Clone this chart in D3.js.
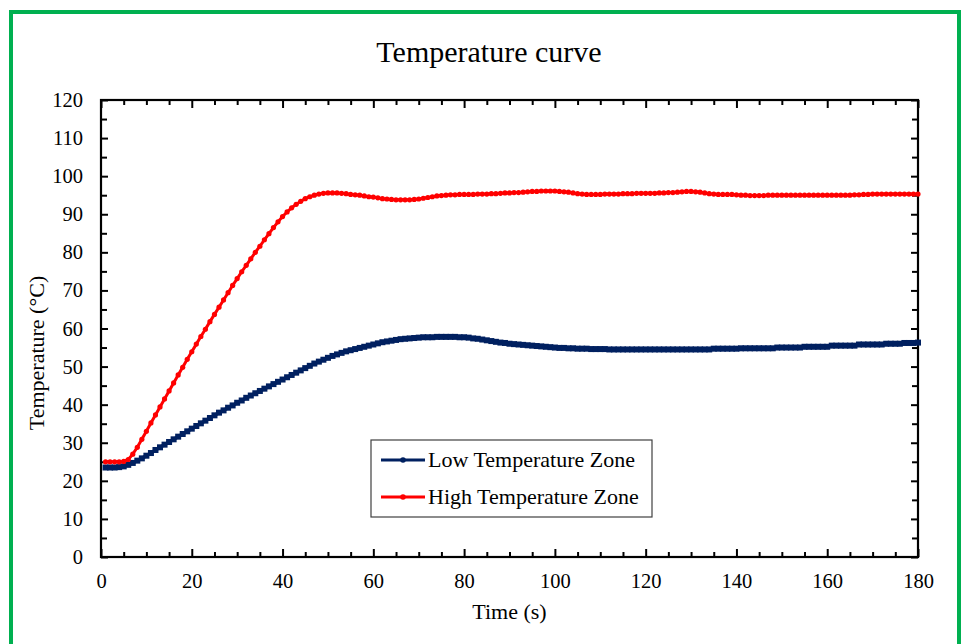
<!DOCTYPE html>
<html>
<head>
<meta charset="utf-8">
<script src="https://cdn.jsdelivr.net/npm/d3@7"></script>
<style>
body { margin: 0; background: #fff; }
text { font-family: "Liberation Serif", "Times New Roman", serif; fill: #000; }
</style>
</head>
<body>
<div id="chart"></div>
<script>
var times = d3.range(1, 181);

var lowZone = [
	23.5, 23.5, 23.5, 23.6, 23.8, 24.2, 24.7, 25.3, 25.9, 26.6,
	27.3, 28.1, 28.8, 29.5, 30.2, 30.9, 31.6, 32.3, 33.0, 33.7,
	34.4, 35.1, 35.8, 36.5, 37.2, 37.9, 38.5, 39.2, 39.8, 40.5,
	41.1, 41.8, 42.4, 43.0, 43.6, 44.2, 44.8, 45.4, 46.0, 46.6,
	47.2, 47.8, 48.4, 49.0, 49.6, 50.2, 50.8, 51.3, 51.8, 52.3,
	52.8, 53.2, 53.6, 54.0, 54.3, 54.6, 54.9, 55.2, 55.5, 55.8,
	56.1, 56.4, 56.6, 56.8, 57.0, 57.2, 57.3, 57.4, 57.5, 57.6,
	57.7, 57.7, 57.7, 57.8, 57.8, 57.8, 57.8, 57.8, 57.7, 57.7,
	57.6, 57.4, 57.3, 57.1, 56.9, 56.7, 56.5, 56.3, 56.2, 56.0,
	55.9, 55.8, 55.7, 55.6, 55.5, 55.4, 55.3, 55.2, 55.1, 55.0,
	54.9, 54.9, 54.8, 54.8, 54.7, 54.7, 54.7, 54.6, 54.6, 54.6,
	54.6, 54.5, 54.5, 54.5, 54.5, 54.5, 54.5, 54.5, 54.5, 54.5,
	54.5, 54.5, 54.5, 54.5, 54.5, 54.5, 54.5, 54.5, 54.5, 54.5,
	54.5, 54.5, 54.5, 54.5, 54.7, 54.7, 54.7, 54.7, 54.7, 54.7,
	54.8, 54.8, 54.8, 54.8, 54.8, 54.8, 54.8, 54.8, 55.0, 55.0,
	55.0, 55.0, 55.0, 55.0, 55.2, 55.2, 55.2, 55.2, 55.2, 55.2,
	55.5, 55.5, 55.5, 55.5, 55.5, 55.5, 55.8, 55.8, 55.8, 55.8,
	55.8, 55.8, 56.0, 56.0, 56.0, 56.0, 56.2, 56.2, 56.2, 56.3
];

var highZone = [
	25.0, 25.0, 25.0, 25.0, 25.1, 25.6, 27.0, 28.8, 30.9, 33.0,
	35.2, 37.3, 39.4, 41.5, 43.6, 45.7, 47.8, 49.8, 51.9, 53.9,
	55.9, 57.9, 59.8, 61.8, 63.7, 65.6, 67.5, 69.4, 71.3, 73.1,
	74.9, 76.6, 78.3, 80.0, 81.6, 83.3, 84.9, 86.5, 88.0, 89.4,
	90.6, 91.7, 92.6, 93.4, 94.1, 94.6, 95.0, 95.3, 95.5, 95.6,
	95.6, 95.6, 95.5, 95.4, 95.2, 95.1, 95.0, 94.8, 94.6, 94.5,
	94.3, 94.1, 94.0, 93.9, 93.8, 93.8, 93.8, 93.8, 93.9, 94.0,
	94.2, 94.4, 94.6, 94.8, 94.9, 95.0, 95.1, 95.1, 95.2, 95.2,
	95.2, 95.2, 95.3, 95.3, 95.3, 95.4, 95.4, 95.5, 95.6, 95.6,
	95.7, 95.7, 95.8, 95.9, 96.0, 96.0, 96.1, 96.1, 96.1, 96.1,
	96.0, 95.9, 95.8, 95.6, 95.4, 95.3, 95.2, 95.2, 95.2, 95.2,
	95.3, 95.3, 95.3, 95.3, 95.4, 95.4, 95.4, 95.5, 95.5, 95.5,
	95.5, 95.5, 95.6, 95.6, 95.7, 95.7, 95.8, 95.9, 96.0, 96.0,
	95.9, 95.8, 95.6, 95.4, 95.3, 95.2, 95.2, 95.2, 95.2, 95.1,
	95.0, 95.0, 94.9, 94.9, 94.9, 94.9, 95.0, 95.0, 95.0, 95.0,
	95.0, 95.0, 95.0, 95.0, 95.0, 95.0, 95.0, 95.0, 95.0, 95.0,
	95.0, 95.0, 95.0, 95.0, 95.0, 95.1, 95.1, 95.2, 95.2, 95.3,
	95.3, 95.3, 95.3, 95.3, 95.3, 95.3, 95.3, 95.3, 95.3, 95.3
];

var xTicks = [0, 20, 40, 60, 80, 100, 120, 140, 160, 180];
var yTicks = [0, 10, 20, 30, 40, 50, 60, 70, 80, 90, 100, 110, 120];
var seriesNames = ['Low Temperature Zone', 'High Temperature Zone'];

var width = 962,
	height = 644;
var padding = {left: 101, right: 44, top: 100, bottom: 87};
var innerW = width - padding.left - padding.right,
	innerH = height - padding.top - padding.bottom;

var colors = ['#002060', '#ff0000'];

var svg = d3.select('#chart')
		.append('svg')
		.attr('width', width)
		.attr('height', height)

svg.append('rect')
	.attr('x', 11)
	.attr('y', 12)
	.attr('width', 948)
	.attr('height', 700)
	.attr('fill', 'none')
	.attr('stroke', '#00b050')
	.attr('stroke-width', 4)

svg.append('text')
	.attr('x', 489)
	.attr('y', 62)
	.attr('text-anchor', 'middle')
	.style('font-size', '30px')
	.text('Temperature curve')

var x = d3.scaleLinear().domain([0, 180]).range([0, innerW]);
var y = d3.scaleLinear().domain([0, 120]).range([innerH, 0]);

var g = svg.append('g').attr('transform', `translate(${padding.left}, ${padding.top})`);

var minorX = d3.range(0, 181, 5).filter(d => d % 20 !== 0);
var minorY = d3.range(0, 121, 5).filter(d => d % 10 !== 0);

function styleAxis(sel) {
	sel.select('.domain').remove();
	sel.selectAll('line').attr('stroke', '#000').attr('stroke-width', 2);
	sel.selectAll('text').style('font-size', '20.5px').style('font-family', '"Liberation Serif", serif');
}

g.append('g').attr('transform', `translate(0, ${innerH})`)
	.call(d3.axisBottom(x).tickValues(xTicks).tickSize(-8).tickPadding(16).tickFormat(d3.format('d')))
	.call(styleAxis)
g.append('g').attr('transform', `translate(0, ${innerH})`)
	.call(d3.axisBottom(x).tickValues(minorX).tickSize(-5).tickFormat(''))
	.call(styleAxis)
g.append('g')
	.call(d3.axisTop(x).tickValues(xTicks).tickSize(-8).tickFormat(''))
	.call(styleAxis)
g.append('g')
	.call(d3.axisTop(x).tickValues(minorX).tickSize(-5).tickFormat(''))
	.call(styleAxis)

g.append('g')
	.call(d3.axisLeft(y).tickValues(yTicks).tickSize(-7).tickPadding(18).tickFormat(d3.format('d')))
	.call(styleAxis)
g.append('g')
	.call(d3.axisLeft(y).tickValues(minorY).tickSize(-6).tickFormat(''))
	.call(styleAxis)
g.append('g').attr('transform', `translate(${innerW}, 0)`)
	.call(d3.axisRight(y).tickValues(yTicks).tickSize(-7).tickFormat(''))
	.call(styleAxis)
g.append('g').attr('transform', `translate(${innerW}, 0)`)
	.call(d3.axisRight(y).tickValues(minorY).tickSize(-6).tickFormat(''))
	.call(styleAxis)

g.append('rect')
	.attr('width', innerW)
	.attr('height', innerH)
	.attr('fill', 'none')
	.attr('stroke', '#000')
	.attr('stroke-width', 2.2)

var line = d3.line()
		.x((d, i) => x(times[i]))
		.y(d => y(d))

// low zone: navy line with small square markers
g.append('path')
	.datum(lowZone)
	.attr('d', line)
	.attr('fill', 'none')
	.attr('stroke', colors[0])
	.attr('stroke-width', 3.5)

g.selectAll('.low')
	.data(lowZone)
	.enter()
	.append('rect')
	.attr('class', 'low')
	.attr('x', (d, i) => x(times[i]) - 3)
	.attr('y', d => y(d) - 3)
	.attr('width', 6)
	.attr('height', 6)
	.attr('fill', colors[0])

// high zone: red line with small round markers
g.append('path')
	.datum(highZone)
	.attr('d', line)
	.attr('fill', 'none')
	.attr('stroke', colors[1])
	.attr('stroke-width', 3)

g.selectAll('.high')
	.data(highZone)
	.enter()
	.append('circle')
	.attr('class', 'high')
	.attr('cx', (d, i) => x(times[i]))
	.attr('cy', d => y(d))
	.attr('r', 2.6)
	.attr('fill', colors[1])

svg.append('text')
	.attr('x', padding.left + innerW / 2)
	.attr('y', 619)
	.attr('text-anchor', 'middle')
	.style('font-size', '22px')
	.text('Time (s)')

svg.append('text')
	.attr('transform', 'translate(44, 353) rotate(-90)')
	.attr('text-anchor', 'middle')
	.style('font-size', '22px')
	.text('Temperature (°C)')

var legend = svg.append('g').attr('transform', 'translate(371, 440)');

legend.append('rect')
	.attr('width', 281)
	.attr('height', 77)
	.attr('fill', '#fff')
	.attr('stroke', '#404040')
	.attr('stroke-width', 1.2)

var item = legend.selectAll('.item')
		.data(seriesNames)
		.enter()
		.append('g')
		.attr('transform', (d, i) => `translate(10, ${20 + i * 37})`)

item.append('line')
	.attr('x1', 0)
	.attr('x2', 44)
	.attr('stroke', (d, i) => colors[i])
	.attr('stroke-width', 3)

item.append('circle')
	.attr('cx', 22)
	.attr('r', 2.8)
	.attr('fill', (d, i) => colors[i])

item.append('text')
	.attr('x', 47)
	.attr('y', 7)
	.style('font-size', '22px')
	.text(d => d)
</script>
</body>
</html>
